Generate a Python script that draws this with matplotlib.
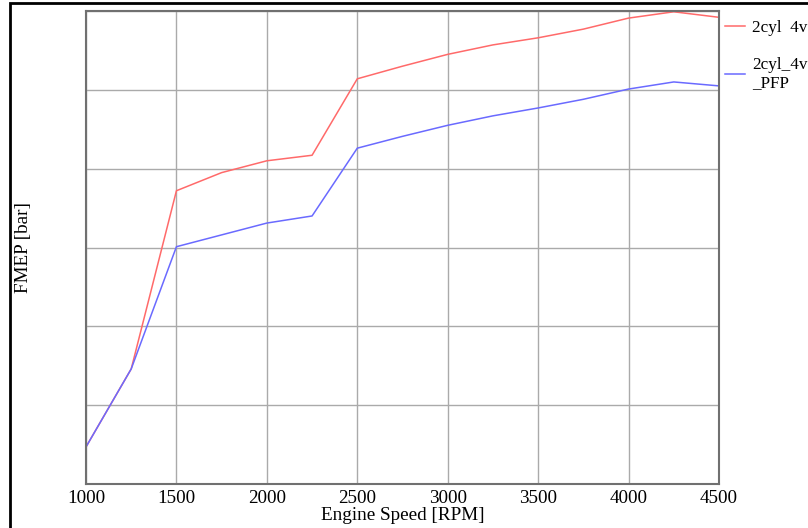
import matplotlib.pyplot as plt
import matplotlib.patches as patches

# Engine speed points [RPM]
rpm = [1000, 1250, 1500, 1750, 2000, 2250, 2500, 2750, 3000, 3250, 3500, 3750, 4000, 4250, 4500]

# FMEP traces (y axis has no numeric labels in the source, arbitrary units)
fmep_4v = [0.47, 1.46, 3.72, 3.95, 4.10, 4.17, 5.14, 5.30, 5.45, 5.57, 5.66, 5.77, 5.91, 5.99, 5.92]
fmep_4v_pfp = [0.47, 1.46, 3.01, 3.16, 3.31, 3.40, 4.26, 4.41, 4.55, 4.67, 4.77, 4.88, 5.01, 5.10, 5.05]

series_labels = ["2cyl  4v", "2cyl_4v\n_PFP"]
x_ticks = [1000, 1500, 2000, 2500, 3000, 3500, 4000, 4500]

plt.rcParams['font.family'] = ['Liberation Serif', 'DejaVu Serif']
fs = 13.8

fig = plt.figure(figsize=(8.08, 5.28), dpi=100)
ax = fig.add_axes([86 / 808, 1 - 484 / 528, (719 - 86) / 808, (484 - 11) / 528])

ax.plot(rpm, fmep_4v, color='#ff6a6a', lw=1.1, label=series_labels[0])
ax.plot(rpm, fmep_4v_pfp, color='#6a6aff', lw=1.1, label=series_labels[1])

ax.set_xlim(1000, 4500)
ax.set_ylim(0, 6)
ax.set_xticks(x_ticks)
ax.set_yticks(range(0, 7))
ax.set_yticklabels([])
ax.tick_params(length=0, labelsize=fs, pad=4)
ax.grid(True, color='#aaaaaa', lw=1)
for s in ax.spines.values():
    s.set_color('#707070')
    s.set_linewidth(1.5)

ax.set_xlabel("Engine Speed [RPM]", fontsize=fs, labelpad=0)
ax.set_ylabel("FMEP [bar]", fontsize=fs, labelpad=35)

ax.legend(loc='upper left', bbox_to_anchor=(1.0, 0.994), frameon=False,
          fontsize=12.3, handlelength=1.2, handletextpad=0.4,
          borderaxespad=0.15, borderpad=0.2, labelspacing=1.25)

# outer frame of the original figure
frame = patches.Rectangle((10 / 808, -0.1), 1.2, 1.1 - 3 / 528,
                          transform=fig.transFigure, fill=False,
                          edgecolor='black', lw=2)
fig.patches.append(frame)

fig.savefig("out.png", dpi=100)
